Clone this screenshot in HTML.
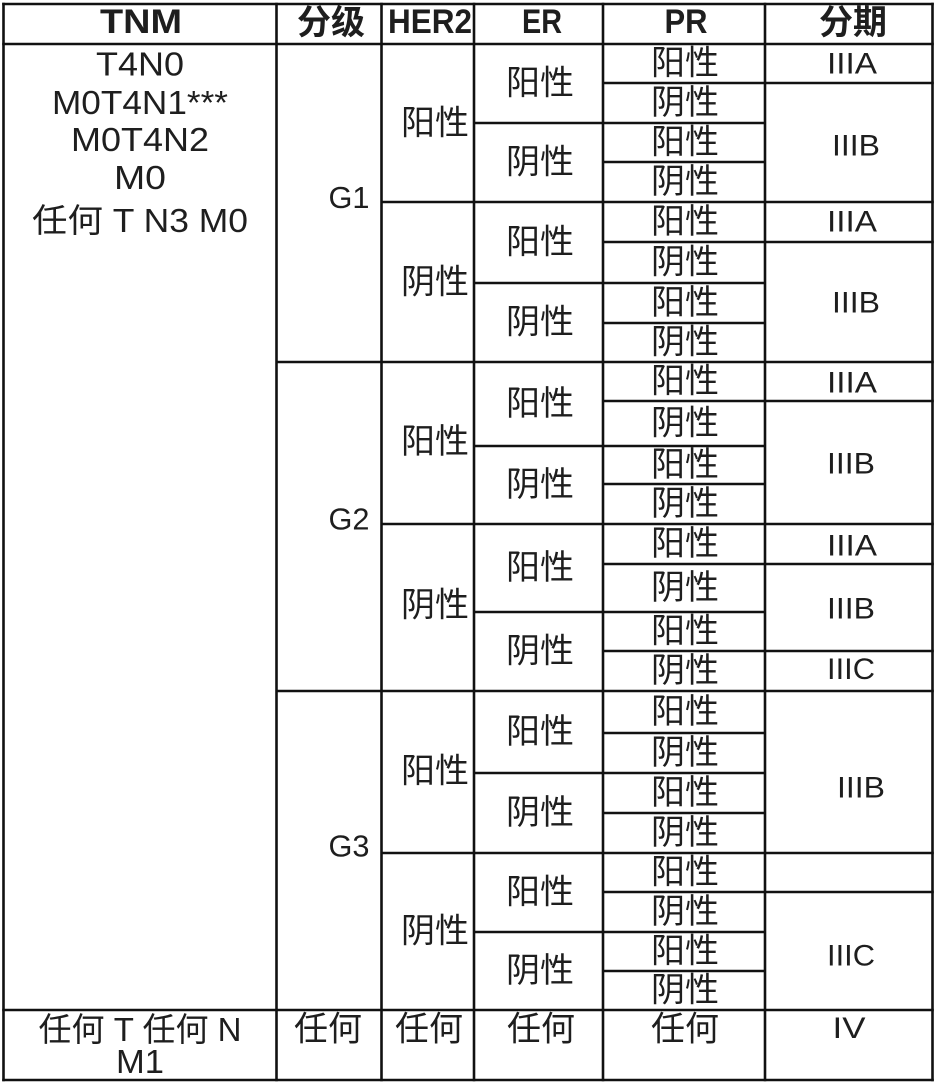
<!DOCTYPE html>
<html>
<head>
<meta charset="utf-8">
<style>
html,body{margin:0;padding:0;background:#fff;}
body{width:936px;height:1083px;overflow:hidden;}
svg{display:block;}
text{font-family:"Liberation Sans","Noto Sans CJK SC",sans-serif;fill:#1e1e1e;}
.h{font-weight:bold;font-size:34px;}
.c{font-size:34px;}
.l{font-size:31px;}
.t{font-size:33px;}
.s{font-size:30px;}
</style>
</head>
<body>
<svg width="936" height="1083" viewBox="0 0 936 1083" xmlns="http://www.w3.org/2000/svg">
<rect x="0" y="0" width="936" height="1083" fill="#fff"/>
<g stroke="#111" stroke-width="2.6" fill="none">
  <line x1="2.2" y1="4" x2="933.8" y2="4"/>
  <line x1="2.2" y1="44" x2="933.8" y2="44"/>
  <line x1="2.2" y1="1010" x2="933.8" y2="1010"/>
  <line x1="2.2" y1="1080" x2="933.8" y2="1080"/>
  <line x1="276.5" y1="362" x2="933.8" y2="362"/>
  <line x1="276.5" y1="691" x2="933.8" y2="691"/>
  <line x1="381.5" y1="202" x2="933.8" y2="202"/>
  <line x1="381.5" y1="524" x2="933.8" y2="524"/>
  <line x1="381.5" y1="853" x2="933.8" y2="853"/>
  <line x1="474" y1="123" x2="765" y2="123"/>
  <line x1="474" y1="283" x2="765" y2="283"/>
  <line x1="474" y1="446" x2="765" y2="446"/>
  <line x1="474" y1="612" x2="765" y2="612"/>
  <line x1="474" y1="773" x2="765" y2="773"/>
  <line x1="474" y1="932" x2="765" y2="932"/>
  <line x1="603" y1="162" x2="765" y2="162"/>
  <line x1="603" y1="323" x2="765" y2="323"/>
  <line x1="603" y1="484" x2="765" y2="484"/>
  <line x1="603" y1="733" x2="765" y2="733"/>
  <line x1="603" y1="813" x2="765" y2="813"/>
  <line x1="603" y1="971" x2="765" y2="971"/>
  <line x1="603" y1="83" x2="933.8" y2="83"/>
  <line x1="603" y1="242" x2="933.8" y2="242"/>
  <line x1="603" y1="401" x2="933.8" y2="401"/>
  <line x1="603" y1="564" x2="933.8" y2="564"/>
  <line x1="603" y1="651" x2="933.8" y2="651"/>
  <line x1="603" y1="892" x2="933.8" y2="892"/>
  <line x1="3.5" y1="2.7" x2="3.5" y2="1081.3"/>
  <line x1="276.5" y1="2.7" x2="276.5" y2="1081.3"/>
  <line x1="381.5" y1="2.7" x2="381.5" y2="1081.3"/>
  <line x1="474" y1="2.7" x2="474" y2="1081.3"/>
  <line x1="603" y1="2.7" x2="603" y2="1081.3"/>
  <line x1="765" y1="2.7" x2="765" y2="1081.3"/>
  <line x1="932.5" y1="2.7" x2="932.5" y2="1081.3"/>
</g>

<g class="h" text-anchor="middle">
  <text x="141" y="33" textLength="82" lengthAdjust="spacingAndGlyphs">TNM</text>
  <text x="331" y="34">分级</text>
  <text x="430" y="33" textLength="84" lengthAdjust="spacingAndGlyphs">HER2</text>
  <text x="542" y="33" textLength="40" lengthAdjust="spacingAndGlyphs">ER</text>
  <text x="686" y="33" textLength="43" lengthAdjust="spacingAndGlyphs">PR</text>
  <text x="853" y="34">分期</text>
</g>

<g class="t" text-anchor="middle">
  <text x="140" y="75.5" textLength="88" lengthAdjust="spacingAndGlyphs">T4N0</text>
  <text x="140" y="114" textLength="176" lengthAdjust="spacingAndGlyphs">M0T4N1***</text>
  <text x="140" y="151" textLength="138" lengthAdjust="spacingAndGlyphs">M0T4N2</text>
  <text x="140" y="189" textLength="52" lengthAdjust="spacingAndGlyphs">M0</text>
  <text x="140" y="232" textLength="216" lengthAdjust="spacingAndGlyphs">任何 T N3 M0</text>
  <text x="140" y="1041" textLength="203" lengthAdjust="spacingAndGlyphs">任何 T 任何 N</text>
  <text x="140" y="1073" textLength="48" lengthAdjust="spacingAndGlyphs">M1</text>
</g>
<g class="l" text-anchor="middle">
  <text x="349" y="208" textLength="41" lengthAdjust="spacingAndGlyphs">G1</text>
  <text x="349" y="529.5" textLength="41" lengthAdjust="spacingAndGlyphs">G2</text>
  <text x="349" y="856.5" textLength="41" lengthAdjust="spacingAndGlyphs">G3</text>
</g>

<g class="c" text-anchor="middle">
  <text x="435" y="134.6">阳性</text>
  <text x="435" y="293.6">阴性</text>
  <text x="435" y="453">阳性</text>
  <text x="435" y="616.6">阴性</text>
  <text x="435" y="782.6">阳性</text>
  <text x="435" y="942.6">阴性</text>
</g>

<g class="c" text-anchor="middle">
  <text x="540" y="94.5">阳性</text>
  <text x="540" y="173.5">阴性</text>
  <text x="540" y="253.5">阳性</text>
  <text x="540" y="333.5">阴性</text>
  <text x="540" y="415">阳性</text>
  <text x="540" y="496">阴性</text>
  <text x="540" y="579">阳性</text>
  <text x="540" y="662.5">阴性</text>
  <text x="540" y="743">阳性</text>
  <text x="540" y="824">阴性</text>
  <text x="540" y="903.5">阳性</text>
  <text x="540" y="982">阴性</text>
</g>

<g class="c" text-anchor="middle">
  <text x="685" y="74.5">阳性</text>
  <text x="685" y="114">阴性</text>
  <text x="685" y="153.5">阳性</text>
  <text x="685" y="193">阴性</text>
  <text x="685" y="233">阳性</text>
  <text x="685" y="273.5">阴性</text>
  <text x="685" y="314">阳性</text>
  <text x="685" y="353.5">阴性</text>
  <text x="685" y="392.5">阳性</text>
  <text x="685" y="434.5">阴性</text>
  <text x="685" y="476">阳性</text>
  <text x="685" y="515">阴性</text>
  <text x="685" y="555">阳性</text>
  <text x="685" y="599">阴性</text>
  <text x="685" y="642.5">阳性</text>
  <text x="685" y="682">阴性</text>
  <text x="685" y="723">阳性</text>
  <text x="685" y="764">阴性</text>
  <text x="685" y="804">阳性</text>
  <text x="685" y="844">阴性</text>
  <text x="685" y="883.5">阳性</text>
  <text x="685" y="923">阴性</text>
  <text x="685" y="962.5">阳性</text>
  <text x="685" y="1001.5">阴性</text>
</g>

<g class="s" text-anchor="middle">
  <text x="852" y="73.7" textLength="50" lengthAdjust="spacingAndGlyphs">IIIA</text>
  <text x="856" y="155.7" textLength="48" lengthAdjust="spacingAndGlyphs">IIIB</text>
  <text x="852" y="231.7" textLength="50" lengthAdjust="spacingAndGlyphs">IIIA</text>
  <text x="856" y="312.7" textLength="48" lengthAdjust="spacingAndGlyphs">IIIB</text>
  <text x="852" y="392.7" textLength="50" lengthAdjust="spacingAndGlyphs">IIIA</text>
  <text x="851" y="473.7" textLength="48" lengthAdjust="spacingAndGlyphs">IIIB</text>
  <text x="852" y="555.7" textLength="50" lengthAdjust="spacingAndGlyphs">IIIA</text>
  <text x="851" y="618.7" textLength="48" lengthAdjust="spacingAndGlyphs">IIIB</text>
  <text x="851" y="679" textLength="48" lengthAdjust="spacingAndGlyphs">IIIC</text>
  <text x="861" y="797.7" textLength="48" lengthAdjust="spacingAndGlyphs">IIIB</text>
  <text x="851" y="965.7" textLength="48" lengthAdjust="spacingAndGlyphs">IIIC</text>
  <text x="849" y="1038" textLength="33" lengthAdjust="spacingAndGlyphs">IV</text>
</g>

<g class="c" text-anchor="middle">
  <text x="328" y="1040.6">任何</text>
  <text x="429" y="1040.6">任何</text>
  <text x="541" y="1040.6">任何</text>
  <text x="685" y="1040.6">任何</text>
</g>
</svg>
</body>
</html>
